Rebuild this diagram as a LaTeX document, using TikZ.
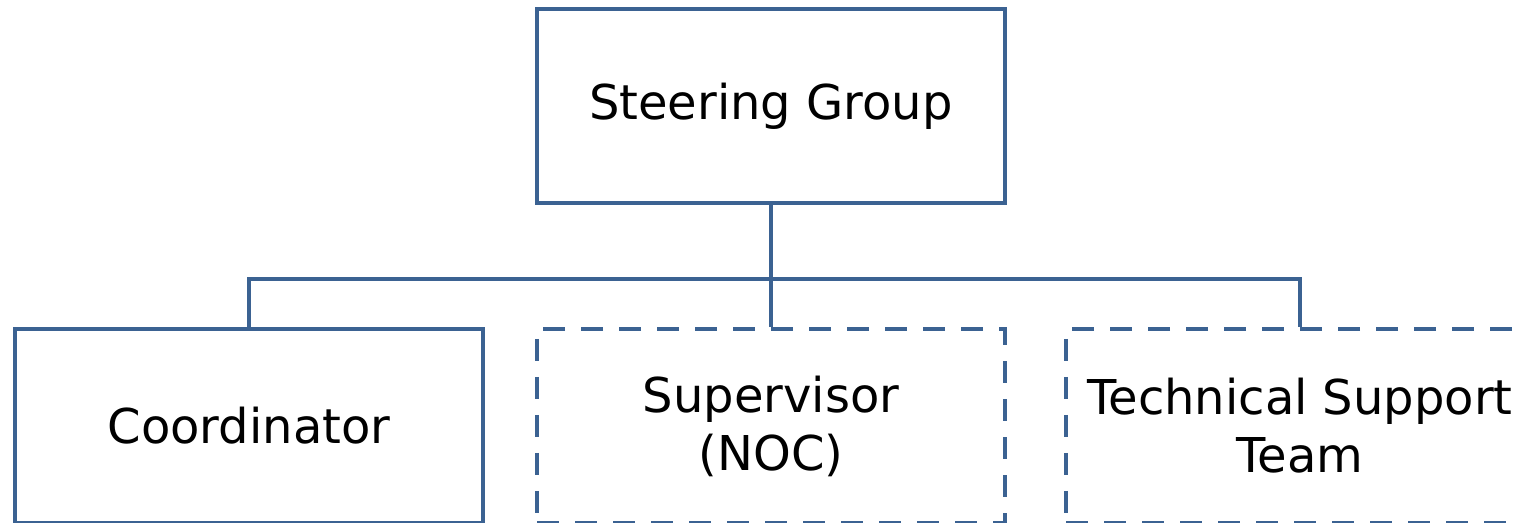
\documentclass[tikz,border=0pt]{standalone}
\usepackage{fontspec}
\setmainfont{DejaVu Sans}
\definecolor{orgblue}{RGB}{59,98,146}
\tikzset{
  unit/.style={draw=orgblue, line width=2.2pt, minimum width=234pt, minimum height=97pt,
    align=center, font=\fontsize{24}{29}\selectfont},
  openunit/.style={unit, dash pattern=on 11pt off 8pt},
  link/.style={draw=orgblue, line width=2.2pt}
}
\begin{document}
\begin{tikzpicture}[x=0.5pt, y=-0.5pt]
      \useasboundingbox (0,0) rectangle (1522,523);
      \node[unit] (steer) at (771,106) {Steering Group};
      \node[unit] (coord) at (249,426) {Coordinator};
      \node[openunit] (superv) at (771,426) {Supervisor\\(NOC)};
      \node[openunit] (tech) at (1300,426) {Technical Support\\Team};
      \begin{scope}[link]
        \draw (steer.south) to (superv.north);
        \draw (coord.north) -- ++(0,-48) coordinate (bus) -| (tech.north);
      \end{scope}
    \end{tikzpicture}
\end{document}
